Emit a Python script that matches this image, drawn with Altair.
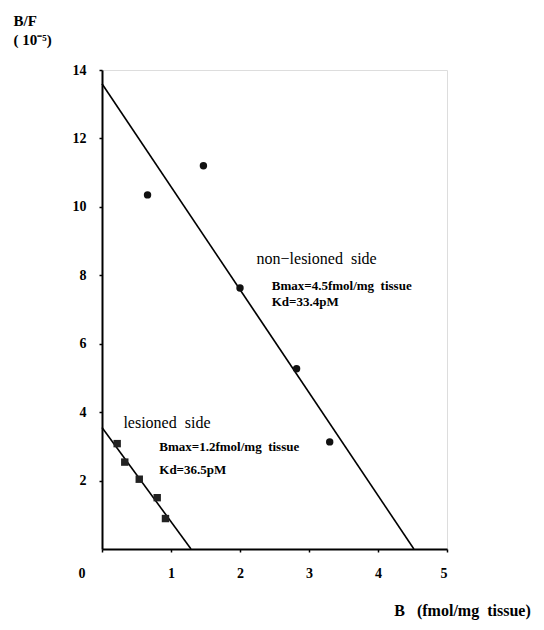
import altair as alt
import pandas as pd

# Data
non_x = [0.66, 1.47, 2.00, 2.82, 3.30]
non_y = [10.35, 11.2, 7.63, 5.27, 3.13]
les_x = [0.22, 0.33, 0.54, 0.80, 0.92]
les_y = [3.08, 2.54, 2.04, 1.50, 0.89]

non_line_x = [0.0, 4.52]
non_line_y = [13.6, 0.0]
les_line_x = [0.0, 1.29]
les_line_y = [3.55, 0.0]

NB = "\u00a0"
big_labels = ["non\u2212lesioned" + NB * 2 + "side", "lesioned" + NB * 2 + "side"]
big_x = [2.24, 0.31]
big_y = [8.48, 3.68]

small_labels = ["Bmax=4.5fmol/mg" + NB * 2 + "tissue", "Kd=33.4pM",
                "Bmax=1.2fmol/mg" + NB * 2 + "tissue", "Kd=36.5pM"]
small_x = [2.46, 2.46, 0.83, 0.83]
small_y = [7.68, 7.22, 2.97, 2.31]

x_ticks = [0, 1, 2, 3, 4, 5]
y_ticks = [2, 4, 6, 8, 10, 12, 14]

FONT = "Liberation Serif"

pts_non = pd.DataFrame({"x": non_x, "y": non_y})
pts_les = pd.DataFrame({"x": les_x, "y": les_y})
ln_non = pd.DataFrame({"x": non_line_x, "y": non_line_y})
ln_les = pd.DataFrame({"x": les_line_x, "y": les_line_y})
big_df = pd.DataFrame({"x": big_x, "y": big_y, "t": big_labels})
small_df = pd.DataFrame({"x": small_x, "y": small_y, "t": small_labels})

xs = alt.Scale(domain=[0, 5], nice=False, zero=False)
ys = alt.Scale(domain=[0, 14], nice=False, zero=False)

x_axis = alt.Axis(
    values=x_ticks, format="d", title="B" + NB * 3 + "(fmol/mg" + NB * 2 + "tissue)", grid=False,
    labelFont=FONT, labelFontSize=14, labelFontWeight="bold", labelColor="black",
    labelPadding=14, tickSize=3, tickColor="black", tickWidth=1.5,
    domainColor="black", domainWidth=2,
    labelOffset={"expr": "datum.value == 0 ? -24 : 0"},
    titleFont=FONT, titleFontSize=16, titleFontWeight="bold", titleColor="black",
    titleX=360, titleY=61, titleAlign="center", titleBaseline="middle",
)
y_axis = alt.Axis(
    values=y_ticks, format="d", title=["B/F", "(" + NB + "10\u207b\u2075)"], grid=False,
    labelFont=FONT, labelFontSize=14, labelFontWeight="bold", labelColor="black",
    labelPadding=13, tickSize=3, tickColor="black", tickWidth=1.5,
    domainColor="black", domainWidth=2,
    titleFont=FONT, titleFontSize=15, titleFontWeight="bold", titleColor="black",
    titleAngle=0, titleAlign="left", titleBaseline="top",
    titleX=-89, titleY=-57, titleLineHeight=19,
)

base_x = alt.X("x:Q", scale=xs, axis=x_axis)
base_y = alt.Y("y:Q", scale=ys, axis=y_axis)

lines_non = alt.Chart(ln_non).mark_line(color="black", strokeWidth=1.6).encode(x=base_x, y=base_y)
lines_les = alt.Chart(ln_les).mark_line(color="black", strokeWidth=1.6).encode(x="x:Q", y="y:Q")
p_non = alt.Chart(pts_non).mark_point(shape="circle", filled=True, color="#111111",
                                        size=55, opacity=1).encode(x="x:Q", y="y:Q")
p_les = alt.Chart(pts_les).mark_point(shape="square", filled=True, color="#222222",
                                        size=55, opacity=1).encode(x="x:Q", y="y:Q")
t_big = alt.Chart(big_df).mark_text(font=FONT, fontSize=16, align="left",
                                    baseline="middle", color="black").encode(
    x="x:Q", y="y:Q", text="t:N")
t_small = alt.Chart(small_df).mark_text(font=FONT, fontSize=13, fontWeight="bold",
                                        align="left", baseline="middle", color="black").encode(
    x="x:Q", y="y:Q", text="t:N")

chart = alt.layer(lines_non, lines_les, p_non, p_les, t_big, t_small).properties(
    width=345, height=479
).configure_view(stroke=None).configure(background="white")

chart.save("out.html", embed_options={"renderer": "svg", "actions": False})
